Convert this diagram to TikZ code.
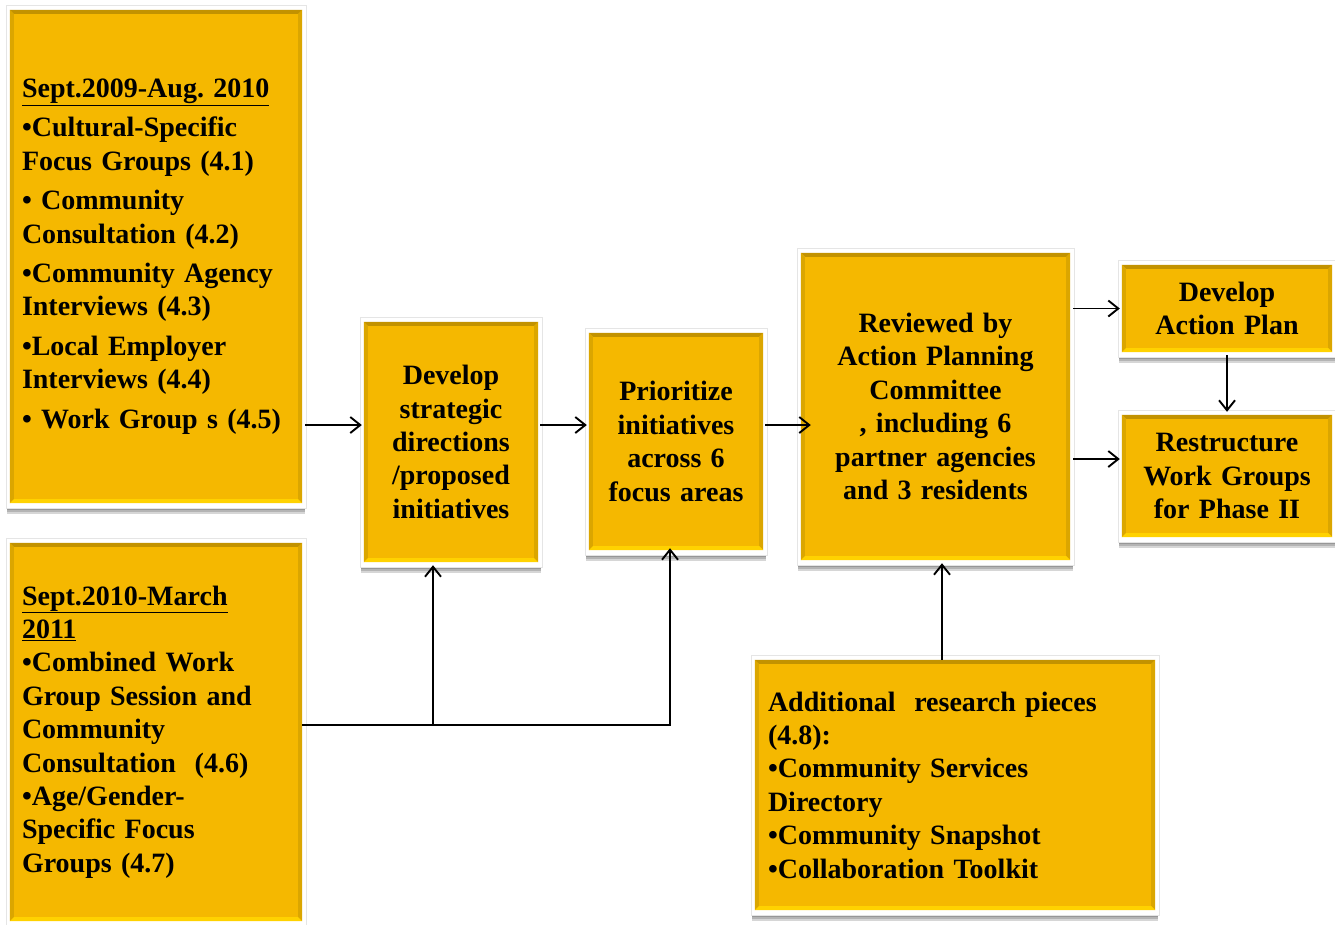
\documentclass[tikz,border=0pt]{standalone}
\usepackage{fontspec}
\setmainfont{Liberation Serif}[WordSpace={0.8,0.5,0.5}]
\usetikzlibrary{arrows.meta,calc,backgrounds}
\definecolor{gold}{HTML}{F5B800}
\definecolor{bevtop}{HTML}{C29200}
\definecolor{bevside}{HTML}{DBA600}
\definecolor{bevbot}{HTML}{FFD200}
\newcommand\boxfont{\fontsize{28}{33.4}\selectfont\bfseries\frenchspacing}
\begin{document}
\begin{tikzpicture}[x=1pt,y=-1pt,
  basebox/.style={rectangle, fill=gold, inner ysep=0pt, font=\boxfont, text=black},
  lbox/.style={basebox, align=left, inner xsep=12pt},
  cbox/.style={basebox, align=center, inner xsep=4pt},
  arr/.style={line width=1.9pt, -{Straight Barb[length=10pt,width=16pt,line width=1.9pt]}},
  plain/.style={line width=1.9pt}]
\useasboundingbox (0,0) rectangle (1335,924);

\node[lbox, text width=268pt, minimum height=493pt] (A) at (156,256.5) {%
\underline{Sept.2009-Aug. 2010}\\[6pt]
•Cultural-Specific\\ Focus Groups (4.1)\\[6pt]
• Community\\ Consultation (4.2)\\[6pt]
•Community Agency\\ Interviews (4.3)\\[6pt]
•Local Employer\\ Interviews (4.4)\\[6pt]
• Work Group s (4.5)};

\node[lbox, text width=268pt, minimum height=378pt] (B) at (156,732) {%
\underline{Sept.2010-March}\\
\underline{2011}\\
•Combined Work\\ Group Session and\\ Community\\ Consultation\ \ (4.6)\\
•Age/Gender-\\ Specific Focus\\ Groups (4.7)};

\node[cbox, text width=166pt, minimum height=240pt] (C) at (451,442) {Develop\\ strategic\\ directions\\ /proposed\\ initiatives};
\node[cbox, text width=166pt, minimum height=217pt] (D) at (676,441.5) {Prioritize\\ initiatives\\ across 6\\ focus areas};
\node[cbox, text width=261pt, minimum height=307pt] (E) at (935.5,406.5) {Reviewed by\\ Action Planning\\ Committee\\ , including 6\\ partner agencies\\ and 3 residents};
\node[cbox, text width=202pt, minimum height=87pt] (F) at (1227,308.5) {Develop\\ Action Plan};
\node[cbox, text width=202pt, minimum height=122pt] (G) at (1227,476) {Restructure\\ Work Groups\\ for Phase II};
\node[lbox, inner xsep=13pt, text width=374pt, minimum height=250pt] (H) at (955,785) {%
Additional\ \ research pieces\\ (4.8):\\ •Community Services\\ Directory\\ •Community Snapshot\\ •Collaboration Toolkit};

\begin{scope}[on background layer]
\foreach \n in {A,B,C,D,E,F,G,H} {
  \foreach \k in {0,2,4,6,8}
    \fill[black,opacity=0.16] ($(\n.south west)+(-3,3+\k)$) rectangle ($(\n.north east)+(3,0)$);
  \fill[white, draw=black!10, line width=0.6pt] ($(\n.south west)+(-4,5)$) rectangle ($(\n.north east)+(4,-5)$);
}
\end{scope}

\foreach \n in {A,B,C,D,E,F,G,H} {
  \fill[bevtop] (\n.north west) -- (\n.north east) -- ($(\n.north east)+(-4,4)$) -- ($(\n.north west)+(4,4)$) -- cycle;
  \fill[bevside] (\n.north west) -- ($(\n.north west)+(4,4)$) -- ($(\n.south west)+(4,-4)$) -- (\n.south west) -- cycle;
  \fill[bevside] (\n.north east) -- ($(\n.north east)+(-4,4)$) -- ($(\n.south east)+(-4,-4)$) -- (\n.south east) -- cycle;
  \fill[bevbot] (\n.south west) -- (\n.south east) -- ($(\n.south east)+(-4,-4)$) -- ($(\n.south west)+(4,-4)$) -- cycle;
}

\coordinate (yrow) at (0,425);
\coordinate (yG) at (0,459);
\coordinate (jB) at (0,725);
\coordinate (xC) at (433,0);
\coordinate (xD) at (670,0);
\coordinate (xH) at (942,0);

\draw[arr, shorten <=3pt, shorten >=2pt] (A.east |- yrow) -- (C.west |- yrow);
\draw[arr, shorten <=2pt, shorten >=2pt] (C.east |- yrow) -- (D.west |- yrow);
\draw[arr, shorten <=2pt, shorten >=-10pt] (D.east |- yrow) -- (E.west |- yrow);
\draw[arr, shorten <=3pt, shorten >=2pt] (E.east |- F.west) -- (F.west);
\draw[arr, shorten <=3pt, shorten >=2pt] (E.east |- yG) -- (G.west |- yG);
\draw[arr, shorten <=3pt, shorten >=3pt] (F.south) -- (G.north);
\draw[arr, shorten >=-2pt] (B.east |- jB) -| (xD |- D.south);
\draw[arr, shorten >=3pt] (xC |- jB) -- (xC |- C.south);
\draw[arr, shorten >=3pt] (xH |- H.north) -- (xH |- E.south);
\end{tikzpicture}
\end{document}
